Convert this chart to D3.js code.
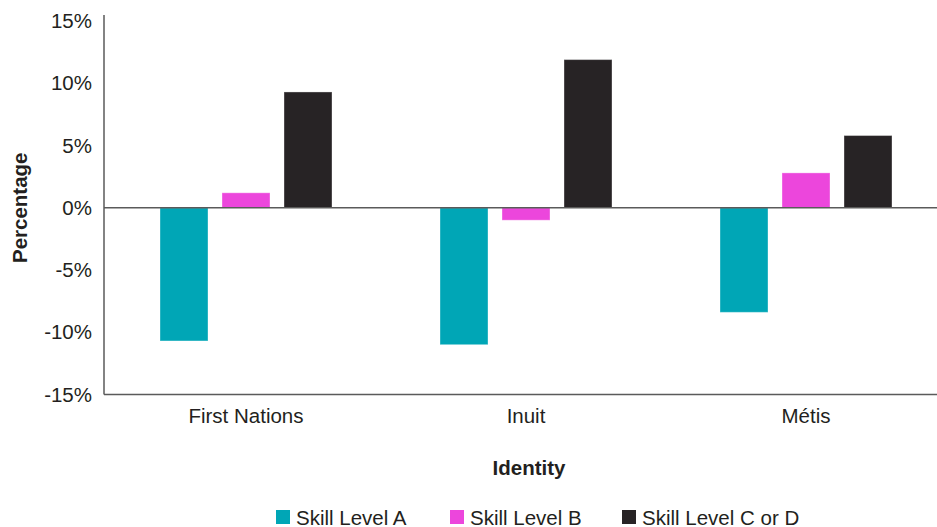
<html>
<head>
    <meta charset="utf-8">
    <title>Skill level change by identity</title>
    <script src="https://cdn.jsdelivr.net/npm/d3@7/dist/d3.min.js"></script>
    <style>
        body { margin: 0; background: #fff; font-family: 'Liberation Sans', Arial, Helvetica, sans-serif; }
        svg text { fill: #231f20; }
    </style>
</head>
<body>
    <svg id="chart" width="937" height="527"></svg>

    <script>

    var categories = ["First Nations", "Inuit", "Métis"];
    var seriesNames = ["Skill Level A", "Skill Level B", "Skill Level C or D"];
    var skillA = [-10.7, -11.0, -8.4];
    var skillB = [1.2, -1.0, 2.8];
    var skillCD = [9.3, 11.9, 5.8];
    var yTicks = [-15, -10, -5, 0, 5, 10, 15];
    var colors = ["#00a6b6", "#ec46dc", "#272325"];

    var seriesValues = [skillA, skillB, skillCD];

    var svg = d3.select("#chart");
    var axisColor = "#5a5a5a";
    var fontSize = 20.5;

    var y = d3.scaleLinear().domain([-15, 15]).range([394.5, 21]);
    var x0 = d3.scaleBand().domain(categories).range([106, 946]);
    var x1 = d3.scaleBand().domain(seriesNames)
        .range([0, x0.bandwidth()])
        .paddingInner(0.226)
        .paddingOuter(0.871);

    // y axis labels
    var yAxis = d3.axisLeft(y)
        .tickValues(yTicks)
        .tickSize(0)
        .tickPadding(12)
        .tickFormat(function (d) { return d + "%"; });

    var gy = svg.append("g")
        .attr("transform", "translate(104,0)")
        .call(yAxis);
    gy.select(".domain").remove();
    gy.selectAll("text")
        .attr("font-size", fontSize)
        .attr("font-family", "'Liberation Sans', Arial, sans-serif")
        .style("fill", "#231f20");

    // bars
    var rows = [];
    categories.forEach(function (c, i) {
        seriesNames.forEach(function (s, j) {
            rows.push({ cat: c, series: s, value: seriesValues[j][i], color: colors[j] });
        });
    });

    svg.selectAll("rect.bar")
        .data(rows)
        .enter()
        .append("rect")
        .attr("class", "bar")
        .attr("x", function (d) { return x0(d.cat) + x1(d.series); })
        .attr("width", x1.bandwidth())
        .attr("y", function (d) { return y(Math.max(0, d.value)); })
        .attr("height", function (d) { return Math.abs(y(d.value) - y(0)); })
        .attr("fill", function (d) { return d.color; })
        .attr("stroke", "#ffffff")
        .attr("stroke-opacity", 0.35)
        .attr("stroke-width", 1);

    // axis lines
    svg.append("line")
        .attr("x1", 104).attr("x2", 104)
        .attr("y1", 15).attr("y2", y(-15))
        .attr("stroke", axisColor).attr("stroke-width", 1.5);

    svg.append("line")
        .attr("x1", 104).attr("x2", 937)
        .attr("y1", y(-15)).attr("y2", y(-15))
        .attr("stroke", axisColor).attr("stroke-width", 1.5);

    svg.append("line")
        .attr("x1", 104).attr("x2", 937)
        .attr("y1", y(0)).attr("y2", y(0))
        .attr("stroke", axisColor).attr("stroke-width", 1.5);

    // category labels
    svg.selectAll("text.cat")
        .data(categories)
        .enter()
        .append("text")
        .attr("class", "cat")
        .attr("x", function (d) { return x0(d) + x0.bandwidth() / 2; })
        .attr("y", 423)
        .attr("text-anchor", "middle")
        .attr("font-size", fontSize)
        .text(function (d) { return d; });

    // axis titles
    svg.append("text")
        .attr("x", 529)
        .attr("y", 475)
        .attr("text-anchor", "middle")
        .attr("font-size", fontSize)
        .attr("font-weight", "bold")
        .text("Identity");

    svg.append("text")
        .attr("transform", "translate(27," + y(0) + ") rotate(-90)")
        .attr("text-anchor", "middle")
        .attr("font-size", fontSize)
        .attr("font-weight", "bold")
        .text("Percentage");

    // legend
    var legendX = [276, 450, 622];
    var legend = svg.selectAll("g.legend")
        .data(seriesNames)
        .enter()
        .append("g")
        .attr("class", "legend")
        .attr("transform", function (d, i) { return "translate(" + legendX[i] + ",510)"; });

    legend.append("rect")
        .attr("width", 14)
        .attr("height", 14)
        .attr("fill", function (d, i) { return colors[i]; });

    legend.append("text")
        .attr("x", 20)
        .attr("y", 14.5)
        .attr("font-size", fontSize)
        .text(function (d) { return d; });

    </script>
</body>
</html>
